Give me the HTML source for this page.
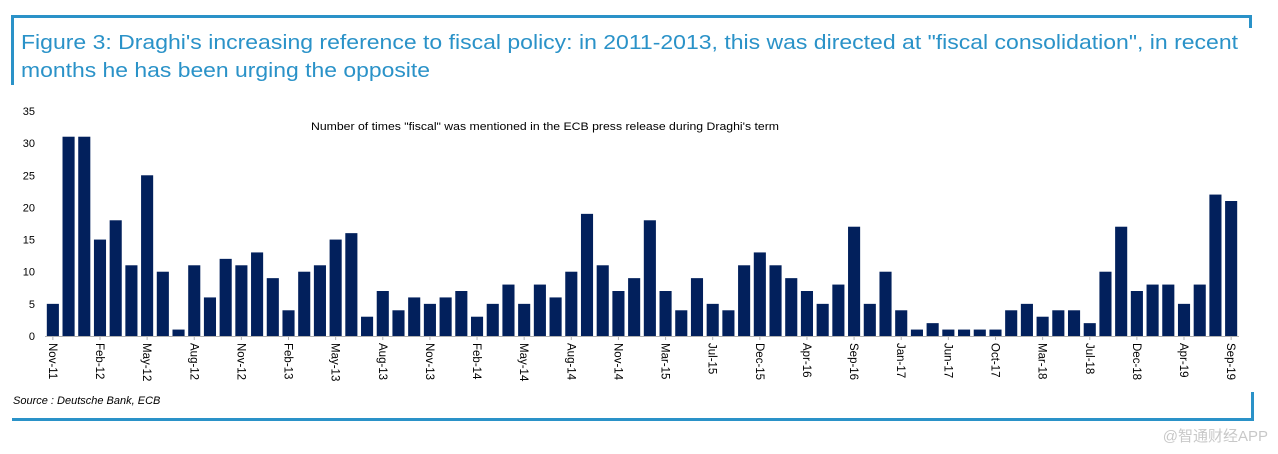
<!DOCTYPE html>
<html><head><meta charset="utf-8"><style>
html,body{margin:0;padding:0;background:#fff;}
svg{display:block;font-family:"Liberation Sans","Noto Sans CJK SC",sans-serif;}
</style></head><body>
<svg id="chart" width="1278" height="454" viewBox="0 0 1278 454">
<g fill="#2a92c8">
<rect x="11" y="15" width="1240" height="3"/>
<rect x="11" y="15" width="3" height="70"/>
<rect x="1249" y="15" width="3" height="13"/>
<rect x="12" y="418" width="1242" height="3"/>
<rect x="1251" y="392" width="3" height="29"/>
</g>
<text x="21" y="49" font-size="20" fill="#2a92c8" textLength="1217" lengthAdjust="spacingAndGlyphs">Figure 3: Draghi's increasing reference to fiscal policy: in 2011-2013, this was directed at "fiscal consolidation", in recent</text>
<text x="21" y="77" font-size="20" fill="#2a92c8" textLength="409" lengthAdjust="spacingAndGlyphs">months he has been urging the opposite</text>
<text x="545" y="130" font-size="11" fill="#000" text-anchor="middle" textLength="468" lengthAdjust="spacingAndGlyphs">Number of times "fiscal" was mentioned in the ECB press release during Draghi's term</text>
<text x="13" y="404" font-size="11" font-style="italic" fill="#000">Source : Deutsche Bank, ECB</text>
<text x="1268" y="441" font-size="15" fill="#c8c8c8" text-anchor="end">@智通财经APP</text>
<g id="yaxis"></g>
<g id="bars"></g>
<g id="xaxis"></g>
</svg>
<script>
const values = [5,31,31,15,18,11,25,10,1,11,6,12,11,13,9,4,10,11,15,16,3,7,4,6,5,6,7,3,5,8,5,8,6,10,19,11,7,9,18,7,4,9,5,4,11,13,11,9,7,5,8,17,5,10,4,1,2,1,1,1,1,4,5,3,4,4,2,10,17,7,8,8,5,8,22,21];
const xLabels = ["Nov-11","Feb-12","May-12","Aug-12","Nov-12","Feb-13","May-13","Aug-13","Nov-13","Feb-14","May-14","Aug-14","Nov-14","Mar-15","Jul-15","Dec-15","Apr-16","Sep-16","Jan-17","Jun-17","Oct-17","Mar-18","Jul-18","Dec-18","Apr-19","Sep-19"];
const yTicks = [0,5,10,15,20,25,30,35];

const NS = "http://www.w3.org/2000/svg";
const x0 = 45, x1 = 1239, yBase = 336, yTop = 111, yMax = 35;
const n = values.length;
const step = (x1 - x0) / n;
const barW = step * 0.77;
function xCenter(i){ return x0 + (i + 0.5) * step; }
function yPos(v){ return yBase - (v / yMax) * (yBase - yTop); }
function mk(tag, attrs, parent){ const e = document.createElementNS(NS, tag); for (const k in attrs) e.setAttribute(k, attrs[k]); parent.appendChild(e); return e; }

const ya = document.getElementById('yaxis');
yTicks.forEach(t => {
  const tx = mk('text', {x: 35, y: yPos(t) + 4, 'font-size': 11, 'text-anchor': 'end', fill: '#000'}, ya);
  tx.textContent = t;
  
  
});

const bg = document.getElementById('bars');
values.forEach((v, i) => {
  const r = mk('rect', {x: xCenter(i) - barW/2, y: yPos(v), width: barW, height: yBase - yPos(v), fill: '#02205c'}, bg);
  
  
});

const xa = document.getElementById('xaxis');
const axl = mk('line', {x1: x0, x2: x1, y1: yBase + 0.5, y2: yBase + 0.5, stroke: '#b0b0b0', 'stroke-width': 1}, xa);


const lblStep = (n - 1) / (xLabels.length - 1);
xLabels.forEach((lab, k) => {
  const cx = xCenter(k * lblStep);
  const tk = mk('line', {x1: cx, x2: cx, y1: yBase, y2: yBase + 4, stroke: '#b0b0b0'}, xa);
  
  
  const tx = mk('text', {x: 0, y: 0, 'font-size': 11.5, fill: '#000', transform: `translate(${cx - 4},${yBase + 7}) rotate(90)`}, xa);
  tx.textContent = lab;
  
  
});
</script>
</body></html>
